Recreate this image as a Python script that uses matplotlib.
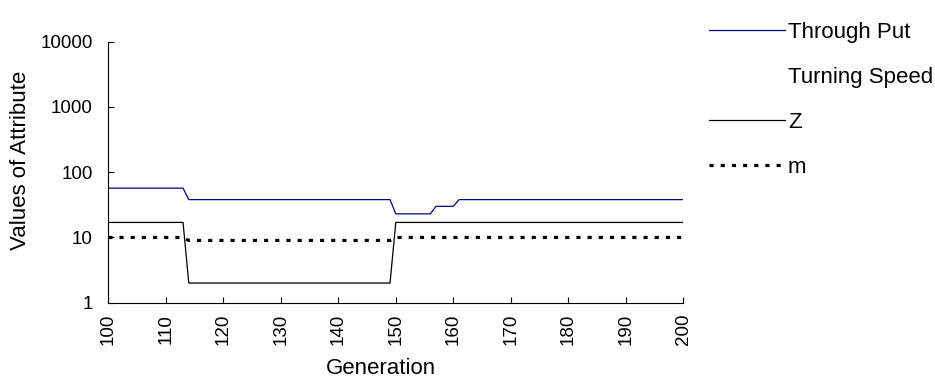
import matplotlib
matplotlib.use("Agg")
import matplotlib.pyplot as plt
import numpy as np

# data
generation = np.arange(100, 201)

# Through Put: steps between plateaus
tp_steps = [(100, 113, 57), (114, 149, 38), (150, 156, 23), (157, 160, 30), (161, 200, 38)]
z_steps = [(100, 113, 17), (114, 149, 2), (150, 200, 17)]
m_steps = [(100, 113, 10), (114, 149, 9), (150, 200, 10)]

y_ticks = [1, 10, 100, 1000, 10000]
x_ticks = list(range(100, 201, 10))


def expand(steps):
    vals = []
    for start, end, v in steps:
        vals += [v] * (end - start + 1)
    return np.array(vals, dtype=float)


through_put = expand(tp_steps)
z = expand(z_steps)
m = expand(m_steps)

plt.rcParams["font.family"] = ["Liberation Sans", "DejaVu Sans"]

fig = plt.figure(figsize=(9.35, 3.91), dpi=100)
ax = fig.add_axes([0.1158, 0.2258, 0.6150, 0.6676])

ax.plot(generation, through_put, color="#000080", lw=0.9, label="Through Put")
ax.plot([], [], color="none", label="Turning Speed")
ax.plot(generation, z, color="black", lw=0.9, label="Z")
ax.plot(generation, m, color="black", lw=2.3, dashes=(1.3, 2.2), label="m")

ax.set_yscale("log")
ax.set_ylim(1, 10000)
ax.set_xlim(100, 200)
ax.set_yticks(y_ticks)
ax.set_yticklabels([str(t) for t in y_ticks])
ax.minorticks_off()
ax.set_xticks(x_ticks)
ax.set_xticklabels([str(t) for t in x_ticks], rotation=90)

for s in ["top", "right"]:
    ax.spines[s].set_visible(False)
for s in ["left", "bottom"]:
    ax.spines[s].set_linewidth(0.8)

ax.tick_params(axis="both", direction="in", length=4, width=0.8, labelsize=13.5)
ax.tick_params(axis="y", pad=11)
ax.tick_params(axis="x", pad=8)

ax.set_xlabel("Generation", fontsize=16)
ax.xaxis.set_label_coords(0.475, -0.21)
ax.xaxis.label.set_verticalalignment("top")
ax.set_ylabel("Values of Attribute", fontsize=16)
ax.yaxis.set_label_coords(-0.135, 0.544)

leg = fig.legend(loc="upper left", bbox_to_anchor=(709 / 935, 0.945), frameon=False,
                 prop={"size": 16}, handlelength=3.4, handletextpad=0.15,
                 labelspacing=1.08, borderaxespad=0, borderpad=0)

fig.savefig("out.png", dpi=100)
